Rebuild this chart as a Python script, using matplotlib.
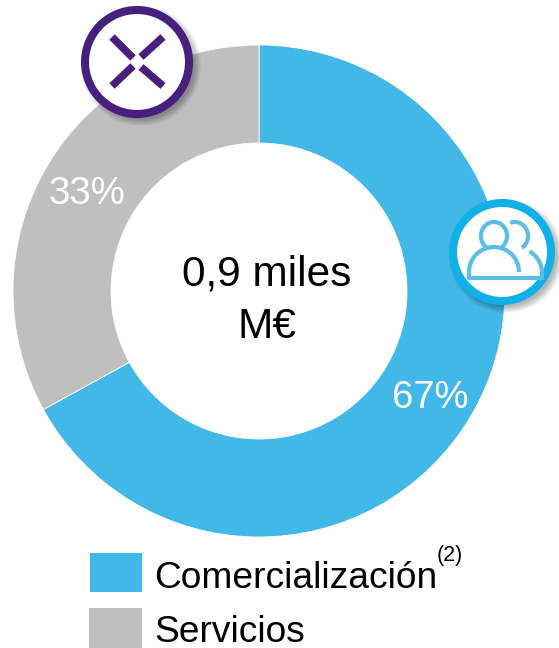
import matplotlib
matplotlib.use('Agg')
import matplotlib.pyplot as plt
from matplotlib.patches import Circle, Rectangle, Arc

categories = ['Comercialización', 'Servicios']
shares = [67, 33]
share_labels = ['67%', '33%']
center_label = '0,9 miles\nM€'

BLUE = '#41B8E8'
GREY = '#BFBFBF'
PURPLE = '#47207F'
RING = '#12B0E8'
ICON = '#5BBFE3'

plt.rcParams['font.family'] = ['Liberation Sans', 'DejaVu Sans']

W, H = 559, 648
fig = plt.figure(figsize=(W / 100, H / 100), dpi=100)
ax = fig.add_axes([0, 0, 1, 1])

# y axis is inverted so angles run clockwise on screen, start at the top
ax.pie(shares, colors=[BLUE, GREY], startangle=-90, counterclock=True,
       center=(259, 291), radius=246, frame=False,
       wedgeprops=dict(width=98, edgecolor='white', linewidth=0.6))
ax.set_xlim(0, W)
ax.set_ylim(H, 0)
ax.set_aspect('auto')
ax.axis('off')

ax.text(430, 398, share_labels[0], color='white', fontsize=27.5, ha='center', va='center')
ax.text(87, 194, share_labels[1], color='white', fontsize=27.5, ha='center', va='center')
ax.text(267, 301, center_label, color='black', fontsize=30.5, ha='center', va='center',
        linespacing=1.4)


def shadow(x, y, r):
    for k in range(8):
        ax.add_patch(Circle((x + 4, y + 4), r + 4 - k, fc='black', ec='none', alpha=0.04, zorder=4))


# X icon
shadow(137, 62, 56)
ax.add_patch(Circle((137, 62), 52, fc='white', ec=PURPLE, lw=5.8, zorder=5))
for x0, y0, x1, y1 in [(112, 37, 133, 58), (163, 37, 141, 57),
                       (112, 86, 133, 66), (163, 86, 141, 67)]:
    ax.plot([x0, x1], [y0, y1], color=PURPLE, lw=5.5, solid_capstyle='butt', zorder=6)

# people icon
shadow(502, 252, 53)
ax.add_patch(Circle((502, 252), 49, fc='white', ec=RING, lw=5.8, zorder=5))
lw = 3
ax.add_patch(Arc((494, 236), 26, 28, theta1=125, theta2=55, color=ICON, lw=lw, zorder=6))
ax.add_patch(Arc((494, 272), 50, 50, theta1=180, theta2=360, color=ICON, lw=lw, zorder=6))
ax.plot([469, 469, 542, 542], [272, 278, 278, 272], color=ICON, lw=lw, zorder=6,
        solid_capstyle='round', solid_joinstyle='round')
ax.add_patch(Arc((515, 236), 26, 28, theta1=250, theta2=60, color=ICON, lw=lw, zorder=6))
ax.add_patch(Arc((517, 273), 50, 50, theta1=300, theta2=360, color=ICON, lw=lw, zorder=6))

# legend
ax.add_patch(Rectangle((90, 553), 52, 39, fc=BLUE, ec='none'))
ax.add_patch(Rectangle((89, 608), 53, 40, fc=GREY, ec='none'))
ax.text(154, 588, categories[0], fontsize=26.7, ha='left', va='baseline', color='black')
ax.text(154, 641.5, categories[1], fontsize=26.7, ha='left', va='baseline', color='black')
ax.text(437, 555, '(2)', fontsize=15.5, ha='left', va='center', color='black')

fig.savefig('out.png', dpi=100)
